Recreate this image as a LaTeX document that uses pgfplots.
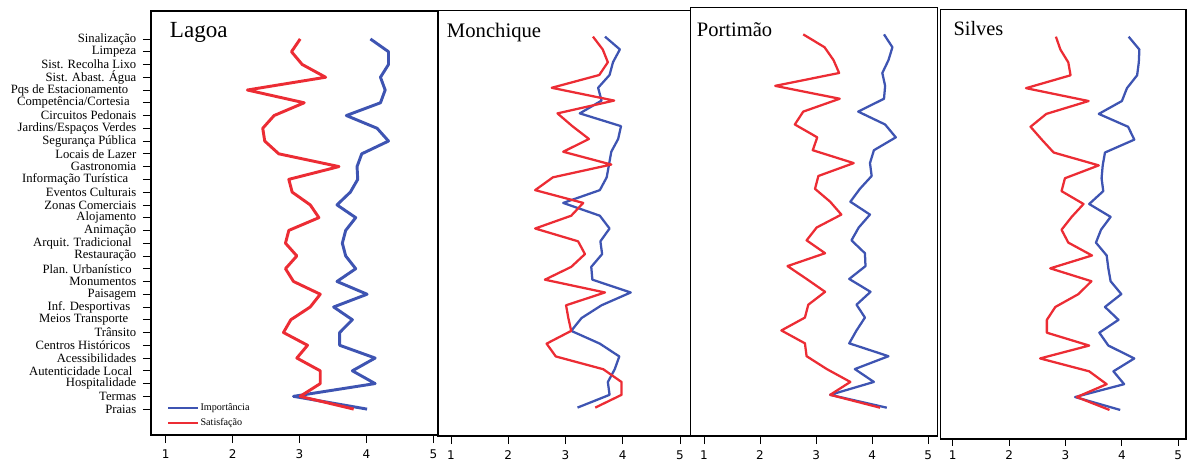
\documentclass[border=0pt]{standalone}
\usepackage{fontspec}
\setmainfont{Liberation Serif}
\newfontfamily\ticksf{DejaVu Sans}
\usepackage{pgfplots}
\usepackage{pgfplotstable}
\pgfplotsset{compat=1.18}
\definecolor{impblue}{RGB}{62,84,178}
\definecolor{satred}{RGB}{236,44,52}

% columns: row index, Importancia, Satisfacao
\pgfplotstableread{
i imp sat
0 4.06 3.01
1 4.33 2.88
2 4.33 3.04
3 4.21 3.39
4 4.28 2.22
5 4.21 3.07
6 3.70 2.62
7 4.16 2.45
8 4.33 2.48
9 3.93 2.69
10 3.86 3.59
11 3.87 2.84
12 3.76 2.89
13 3.56 3.16
14 3.84 3.29
15 3.69 2.84
16 3.64 2.79
17 3.69 2.96
18 3.84 2.79
19 3.56 2.91
20 4.01 3.31
21 3.51 3.16
22 3.79 2.87
23 3.60 2.76
24 3.60 3.12
25 4.13 2.96
26 3.79 3.31
27 4.13 3.31
28 2.91 3.01
29 4.01 3.81
}\lagoa

\pgfplotstableread{
i imp sat
0 3.69 3.48
1 3.95 3.65
2 3.83 3.74
3 3.77 3.59
4 3.57 2.76
5 3.63 3.85
6 3.25 2.86
7 3.97 3.12
8 3.92 3.41
9 3.80 2.96
10 3.76 3.80
11 3.72 2.78
12 3.60 2.47
13 2.96 3.31
14 3.60 3.10
15 3.77 2.47
16 3.61 3.22
17 3.64 3.34
18 3.45 3.10
19 3.47 2.64
20 4.14 3.69
21 3.63 3.01
22 3.28 3.05
23 3.10 3.10
24 3.60 2.67
25 3.94 2.83
26 3.86 3.66
27 3.74 3.98
28 3.77 3.98
29 3.21 3.52
}\monchique

\pgfplotstableread{
i imp sat
0 4.21 2.77
1 4.36 3.15
2 4.29 3.31
3 4.18 3.41
4 4.23 2.27
5 4.21 3.42
6 3.75 2.77
7 4.23 2.62
8 4.42 3.02
9 4.03 2.94
10 3.96 3.67
11 3.99 3.04
12 3.78 2.98
13 3.61 3.25
14 3.96 3.45
15 3.76 3.01
16 3.63 2.83
17 3.87 3.16
18 3.88 2.49
19 3.59 2.83
20 3.97 3.16
21 3.72 2.86
22 3.87 2.80
23 3.72 2.38
24 3.59 2.80
25 4.29 2.83
26 3.69 3.19
27 4.03 3.61
28 3.25 3.25
29 4.26 4.14
}\portimao

\pgfplotstableread{
i imp sat
0 4.12 2.83
1 4.31 2.91
2 4.30 3.05
3 4.27 3.09
4 4.09 2.30
5 4.00 3.41
6 3.59 2.66
7 4.11 2.38
8 4.22 2.58
9 3.70 2.79
10 3.66 3.59
11 3.64 2.99
12 3.67 2.93
13 3.42 3.32
14 3.80 3.11
15 3.63 2.93
16 3.54 3.05
17 3.73 3.47
18 3.76 2.73
19 3.80 3.46
20 3.99 3.23
21 3.70 2.82
22 3.94 2.67
23 3.60 2.67
24 3.76 3.42
25 4.22 2.55
26 3.85 3.42
27 4.04 3.73
28 3.17 3.20
29 3.97 3.78
}\silves

\pgfplotsset{
  panel/.style={
    scale only axis,
    anchor=south west,
    y dir=reverse,
    axis line style={black, line width=0.9pt},
    xtick={1,2,3,4,5},
    xtick pos=bottom,
    tick align=outside,
    major tick length=6pt,
    minor tick length=2.25pt,
    x tick style={black, line width=0.6pt},
    y tick style={black, line width=0.5pt},
    minor y tick style={black, line width=0.5pt},
    xticklabel style={font=\ticksf\fontsize{9}{10}\selectfont, yshift=-1.5pt},
    /pgf/number format/assume math mode=true,
    clip=false,
  },
  imp/.style={impblue, line join=round},
  sat/.style={satred, line join=round},
}

\begin{document}
\begin{tikzpicture}
\useasboundingbox (0,0) rectangle (890.25pt,346.5pt);

% ---- Lagoa ----
\begin{axis}[panel,
  at={(113.25pt,20.25pt)}, width=215.25pt, height=318pt,
  xmin=0.78, xmax=5.07, ymin=-2.19, ymax=31.03,
  ytick={0,...,29},
  ytick pos=left,
  yticklabel style={font=\fontsize{9.5}{10}\selectfont, xshift=-1.5pt},
  yticklabels={Sinalização, Limpeza, Sist. Recolha Lixo, Sist. Abast. Água,
    {Pqs de Estacionamento\hspace*{6pt}}, {Competência/Cortesia\hspace*{5pt}},
    Circuitos Pedonais, Jardins/Espaços Verdes, Segurança Pública, Locais de Lazer,
    Gastronomia, {Informação Turística\hspace*{6pt}}, Eventos Culturais, Zonas Comerciais,
    Alojamento, Animação, {Arquit. Tradicional\hspace*{3.5pt}}, Restauração,
    {Plan. Urbanístico\hspace*{3.5pt}}, Monumentos, Paisagem, {Inf. Desportivas\hspace*{4.5pt}},
    {Meios Transporte\hspace*{6pt}}, Trânsito, {Centros Históricos\hspace*{4.5pt}}, Acessibilidades,
    {Autenticidade Local\hspace*{3pt}}, Hospitalidade, Termas, Praias},
  legend style={at={(rel axis cs:0.05,0.010)}, anchor=south west, draw=none, fill=white,
    font=\fontsize{7.6}{8.5}\selectfont, row sep=2pt, inner sep=1pt,
    nodes={inner sep=1.2pt}},
  legend cell align=left,
  legend image code/.code={\draw[#1, line width=2pt] (0pt,0pt) -- (22pt,0pt);},
]
\addplot[imp, line width=2.2pt] table[x=imp, y=i] {\lagoa};
\addplot[sat, line width=2.2pt] table[x=sat, y=i] {\lagoa};
\legend{Importância, Satisfação}
\node[anchor=base west, inner sep=0pt, font=\fontsize{17.3}{18}\selectfont] at (axis cs:1.06,-0.08) {Lagoa};
\end{axis}

% ---- Monchique ----
\begin{axis}[panel,
  at={(328.5pt,19.5pt)}, width=189.5pt, height=319.3pt,
  xmin=0.773, xmax=5.187, ymin=-2.06, ymax=31.22,
  ytick=\empty,
]
\addplot[imp, line width=1.7pt] table[x=imp, y=i] {\monchique};
\addplot[sat, line width=1.7pt] table[x=sat, y=i] {\monchique};
\node[anchor=base west, inner sep=0pt, font=\fontsize{15.5}{16}\selectfont] at (axis cs:0.925,0.08) {Monchique};
\end{axis}

% ---- Portimao ----
\begin{axis}[panel,
  at={(518.0pt,19.5pt)}, width=185.25pt, height=321.5pt,
  xmin=0.763, xmax=5.167, ymin=-2.10, ymax=31.2,
  ytick=\empty, minor ytick={0,...,29},
  ytick pos=both,
]
\addplot[imp, line width=1.7pt] table[x=imp, y=i] {\portimao};
\addplot[sat, line width=1.7pt] table[x=sat, y=i] {\portimao};
\node[anchor=base west, inner sep=0pt, font=\fontsize{15.4}{16}\selectfont] at (axis cs:0.87,0.19) {Portimão};
\end{axis}

% ---- Silves ----
\begin{axis}[panel,
  at={(705.5pt,17.25pt)}, width=184pt, height=322.3pt,
  xmin=0.787, xmax=5.137, ymin=-2.13, ymax=31.26,
  ytick=\empty, minor ytick={0,...,29},
  ytick pos=left,
  major tick length=5pt,
  xticklabel style={yshift=1.2pt},
]
\addplot[imp, line width=1.7pt] table[x=imp, y=i] {\silves};
\addplot[sat, line width=1.7pt] table[x=sat, y=i] {\silves};
\node[anchor=base west, inner sep=0pt, font=\fontsize{15.3}{16}\selectfont] at (axis cs:1.01,-0.08) {Silves};
\end{axis}
\end{tikzpicture}
\end{document}
